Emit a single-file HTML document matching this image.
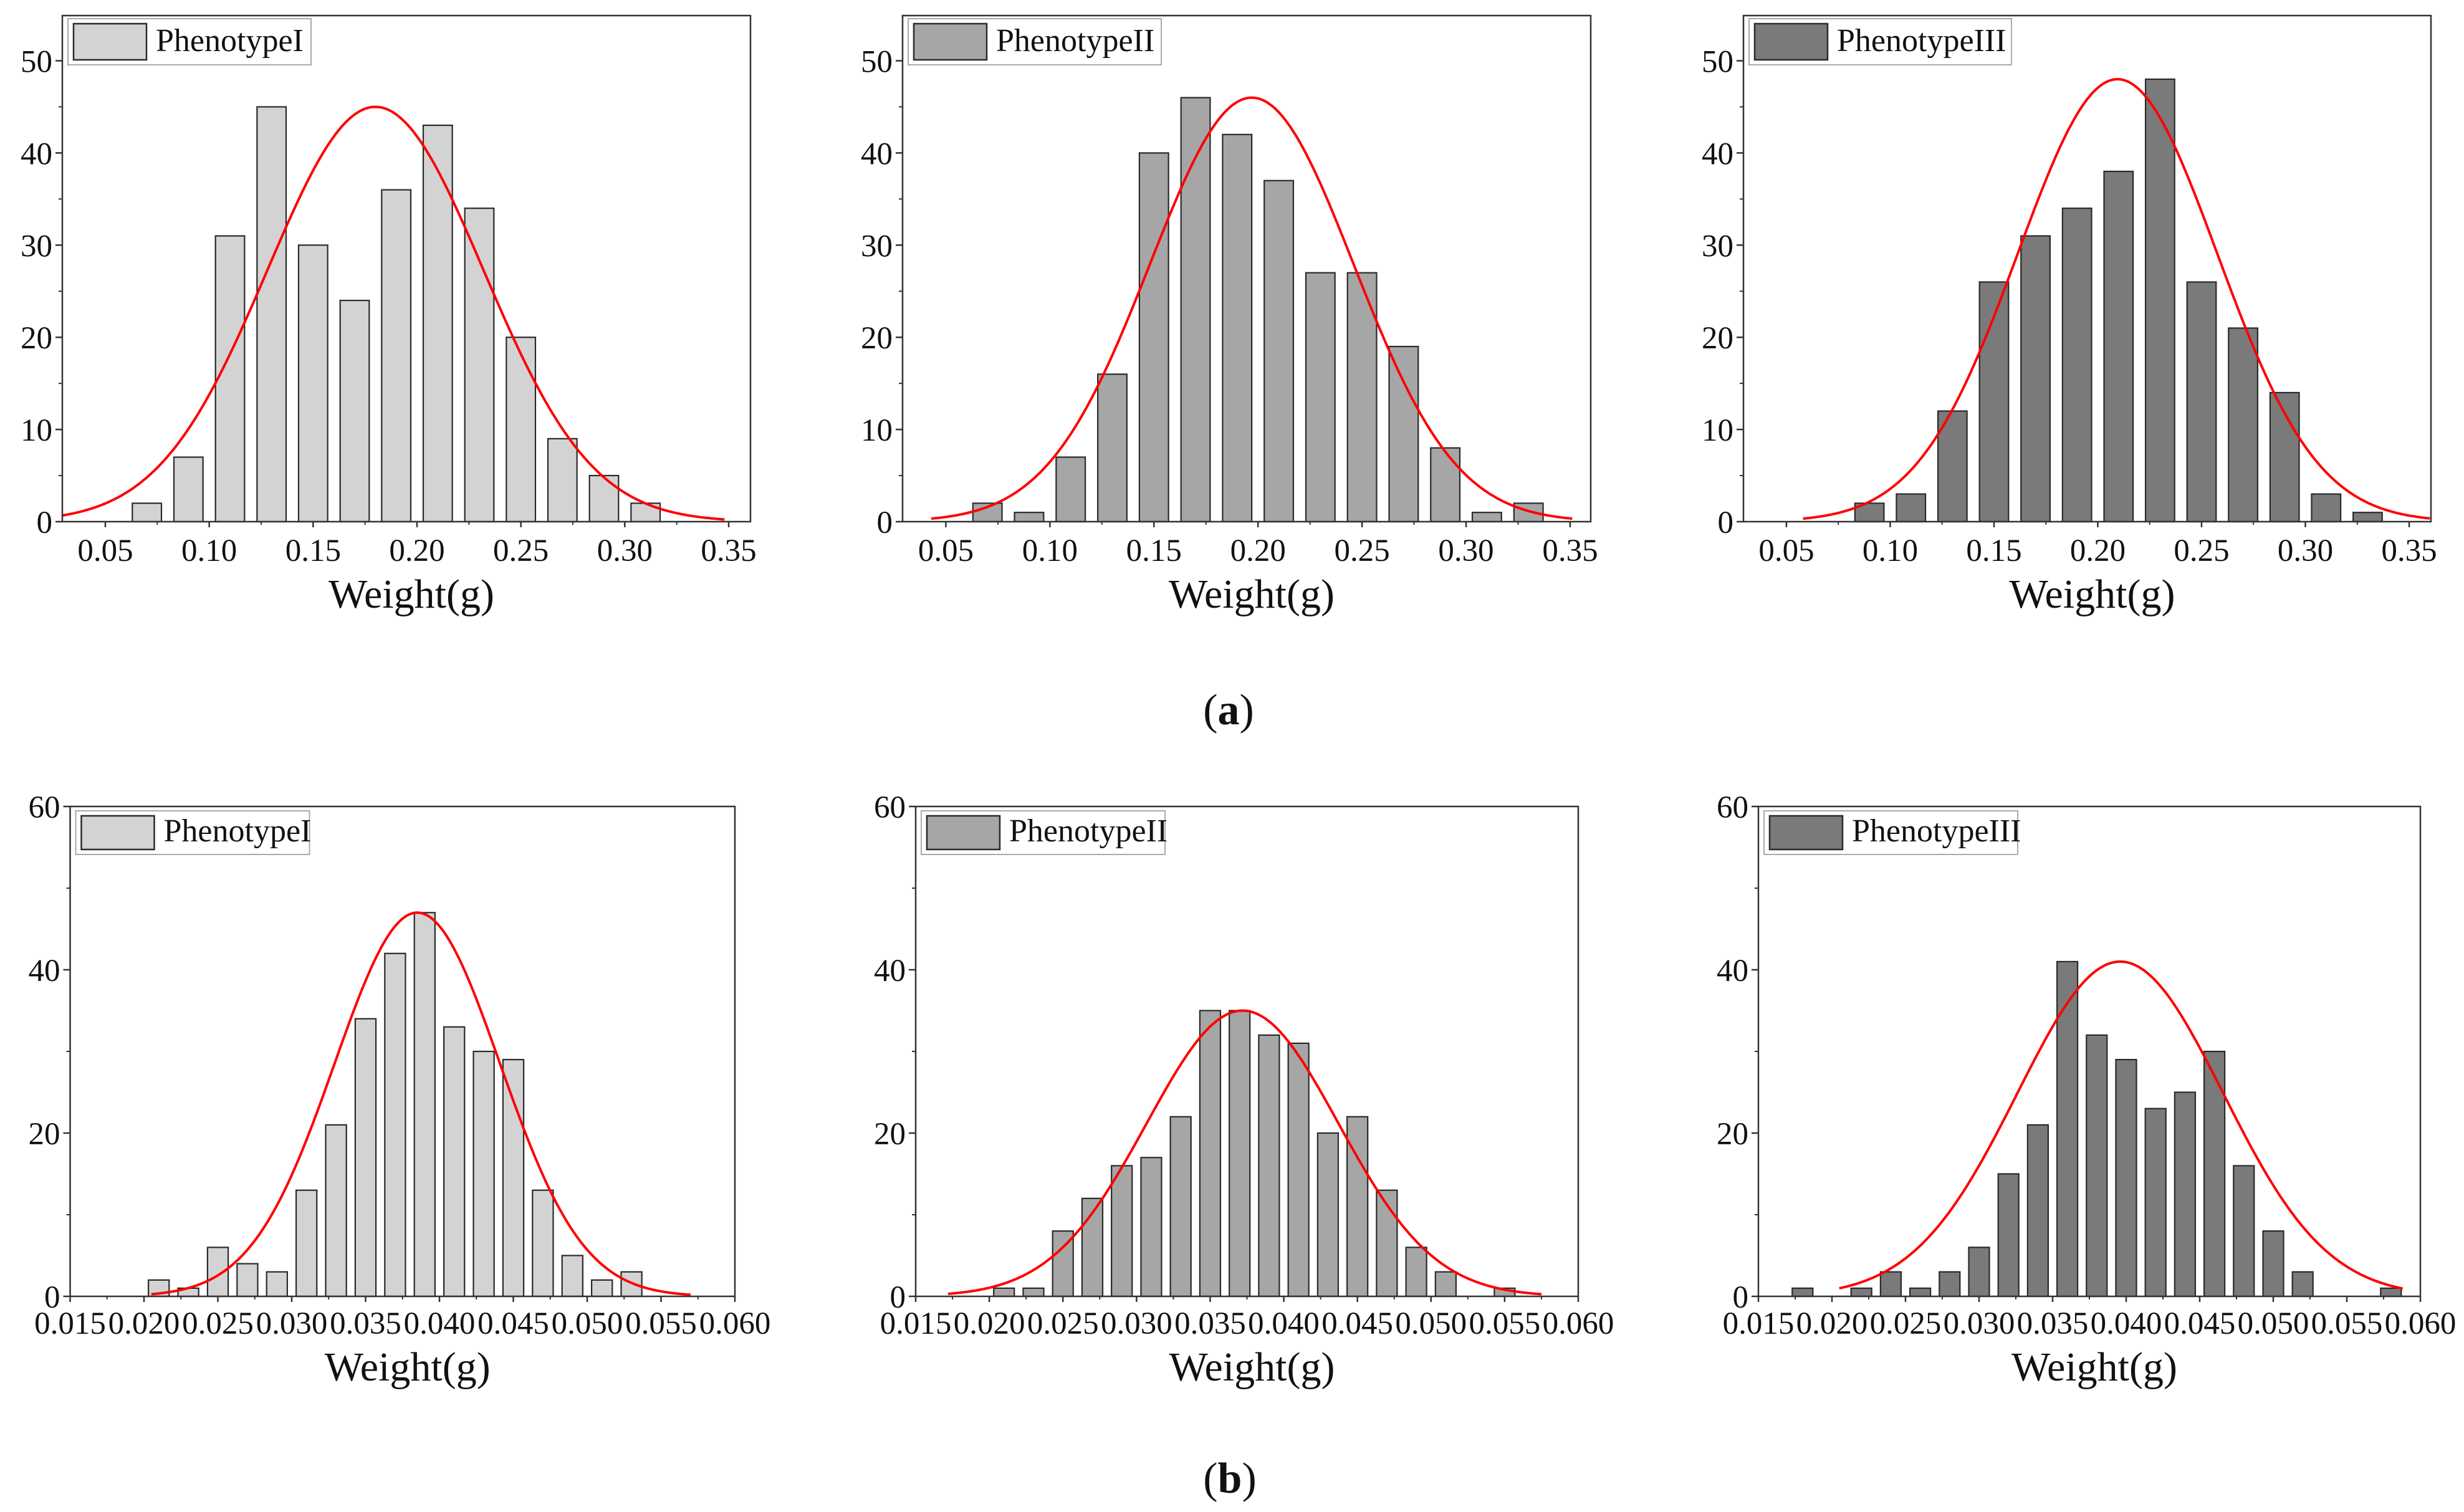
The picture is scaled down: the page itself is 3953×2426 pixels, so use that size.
<!DOCTYPE html>
<html><head><meta charset="utf-8"><style>
html,body{margin:0;padding:0;background:#fff;}
svg{display:block;}
text{font-family:"Liberation Serif",serif;fill:#111;}
</style></head><body>
<svg id="fig" width="3953" height="2426" viewBox="0 0 3953 2426" xmlns="http://www.w3.org/2000/svg">
<rect width="3953" height="2426" fill="#fff"/>
<text x="1971" y="1162" font-size="70" text-anchor="middle">(<tspan font-weight="bold">a</tspan>)</text>
<text x="1973" y="2395" font-size="70" text-anchor="middle">(<tspan font-weight="bold">b</tspan>)</text>
</svg>
<script>
// ---- data (top row, x in g) ----
const topXTicks = [0.05,0.10,0.15,0.20,0.25,0.30,0.35];
const topXTickLabels = ["0.05","0.10","0.15","0.20","0.25","0.30","0.35"];
const topYTicks = [0,10,20,30,40,50];
const topYTickLabels = ["0","10","20","30","40","50"];
const p1Centers = [0.07,0.09,0.11,0.13,0.15,0.17,0.19,0.21,0.23,0.25,0.27,0.29,0.31];
const p1Counts  = [2,7,31,45,30,24,36,43,34,20,9,5,2];
const p1Fit = [0.180,0.052,45,0.029,0.348]; // mean, sd, peak, start, end
const p2Centers = [0.07,0.09,0.11,0.13,0.15,0.17,0.19,0.21,0.23,0.25,0.27,0.29,0.31,0.33];
const p2Counts  = [2,1,7,16,40,46,42,37,27,27,19,8,1,2];
const p2Fit = [0.197,0.049,46,0.043,0.351];
const p3Centers = [0.09,0.11,0.13,0.15,0.17,0.19,0.21,0.23,0.25,0.27,0.29,0.31,0.33];
const p3Counts  = [2,3,12,26,31,34,38,48,26,21,14,3,1];
const p3Fit = [0.2095,0.048,48,0.058,0.36];
// ---- data (bottom row) ----
const botXTicks = [0.015,0.020,0.025,0.030,0.035,0.040,0.045,0.050,0.055,0.060];
const botXTickLabels = ["0.015","0.020","0.025","0.030","0.035","0.040","0.045","0.050","0.055","0.060"];
const botYTicks = [0,20,40,60];
const botYTickLabels = ["0","20","40","60"];
const p4Centers = [0.021,0.023,0.025,0.027,0.029,0.031,0.033,0.035,0.037,0.039,0.041,0.043,0.045,0.047,0.049,0.051,0.053];
const p4Counts  = [2,1,6,4,3,13,21,34,42,47,33,30,29,13,5,2,3];
const p4Fit = [0.0385,0.0056,47,0.0205,0.0570];
const p5Centers = [0.021,0.023,0.025,0.027,0.029,0.031,0.033,0.035,0.037,0.039,0.041,0.043,0.045,0.047,0.049,0.051,0.053,0.055];
const p5Counts  = [1,1,8,12,16,17,22,35,35,32,31,20,22,13,6,3,0,1];
const p5Fit = [0.0372,0.0065,35,0.0172,0.0575];
const p6Centers = [0.018,0.020,0.022,0.024,0.026,0.028,0.030,0.032,0.034,0.036,0.038,0.040,0.042,0.044,0.046,0.048,0.050,0.052,0.054,0.056,0.058];
const p6Counts  = [1,0,1,3,1,3,6,15,21,41,32,29,23,25,30,16,8,3,0,0,1];
const p6Fit = [0.0396,0.0070,41,0.0205,0.0588];
const legendNames = ["PhenotypeI","PhenotypeII","PhenotypeIII"];

const NS = "http://www.w3.org/2000/svg";
const svg = document.getElementById('fig');
function mk(tag, attrs, parent){
  const e = document.createElementNS(NS, tag);
  for (const k in attrs) e.setAttribute(k, attrs[k]);
  (parent||svg).appendChild(e);
  return e;
}
function txt(parent, x, y, s, size, anchor){
  const t = mk('text', {x:x, y:y, 'font-size':size, 'text-anchor':anchor}, parent);
  t.textContent = s;
  return t;
}

function panel(id, L, R, T, B, xmin, xmax, ymax, xTicks, xLabels, xMinorStep, yTicks, yLabels, yMinorStep,
               centers, counts, binW, fit, fill, legendIdx, legW, legH, legDy, lblY, titleY){
  const g = mk('g', {});
  
  
  const sx = v => L + (v - xmin) / (xmax - xmin) * (R - L);
  const sy = v => B - v / ymax * (B - T);
  for (let i = 0; i < centers.length; i++) {
    if (counts[i] <= 0) continue;
    const w = binW * 0.7;
    const x0 = sx(centers[i] - w/2), x1 = sx(centers[i] + w/2);
    const r = mk('rect', {x:x0, y:sy(counts[i]), width:x1-x0, height:B-sy(counts[i]),
      fill:fill, stroke:'#2a2a2a', 'stroke-width':2.2}, g);
    
    
  }
  const [mu, sd, pk, a, b] = fit;
  let d = '';
  for (let k = 0; k <= 300; k++) {
    const xv = a + (b - a) * k / 300;
    const yv = pk * Math.exp(-((xv - mu) ** 2) / (2 * sd * sd));
    d += (k ? 'L' : 'M') + sx(xv).toFixed(1) + ',' + sy(yv).toFixed(1);
  }
  const c = mk('path', {d:d, fill:'none', stroke:'#ff0000', 'stroke-width':4}, g);
  
  
  const f = mk('rect', {x:L, y:T, width:R-L, height:B-T, fill:'none', stroke:'#333', 'stroke-width':2.5}, g);
  
  
  const xa = mk('g', {}, g);
  
  
  for (let v = xTicks[0] - xMinorStep; v <= xmax + 1e-9; v += xMinorStep) {
    if (v < xmin - 1e-9) continue;
    mk('line', {x1:sx(v), x2:sx(v), y1:B, y2:B+5, stroke:'#333', 'stroke-width':2}, xa);
  }
  for (let i = 0; i < xTicks.length; i++) {
    const X = sx(xTicks[i]);
    mk('line', {x1:X, x2:X, y1:B, y2:B+9, stroke:'#333', 'stroke-width':2.5}, xa);
    const t = txt(xa, X, lblY, xLabels[i], 51, 'middle');
    
    
  }
  const tt = txt(xa, (L+R)/2 + 8, titleY, 'Weight(g)', 66, 'middle');
  
  
  const ya = mk('g', {}, g);
  
  
  for (let v = yMinorStep; v < ymax; v += yMinorStep) {
    mk('line', {x1:L-6, x2:L, y1:sy(v), y2:sy(v), stroke:'#333', 'stroke-width':2}, ya);
  }
  for (let i = 0; i < yTicks.length; i++) {
    const Y = sy(yTicks[i]);
    mk('line', {x1:L-11, x2:L, y1:Y, y2:Y, stroke:'#333', 'stroke-width':2.5}, ya);
    const t = txt(ya, L-16, Y+18, yLabels[i], 51, 'end');
    
    
  }
  const lg = mk('g', {}, g);
  
  
  const lx = L + 9, ly = T + legDy;
  mk('rect', {x:lx, y:ly, width:legW, height:legH, fill:'#fff', stroke:'#aaa', 'stroke-width':2}, lg);
  const sw = mk('rect', {x:lx+9, y:ly+8, width:117, height:legH-16, fill:fill, stroke:'#2a2a2a', 'stroke-width':2.5}, lg);
  
  
  const lt = txt(lg, lx+141, ly+legH*0.7, legendNames[legendIdx], 52, 'start');
  
  
}

const tT = 25, tB = 837, t50 = 97.5;
const topYmax = (tB - tT) / ((tB - t50) / 50);
const bT = 1294, bB = 2080;
panel('chart-a-phenotype-1', 100, 1204, tT, tB, 0.0293, 0.3605, topYmax, topXTicks, topXTickLabels, 0.025, topYTicks, topYTickLabels, 5, p1Centers, p1Counts, 0.02, p1Fit, '#d3d3d3', 0, 390, 74, 5, 900, 975);
panel('chart-a-phenotype-2', 1448, 2552, tT, tB, 0.0292, 0.3599, topYmax, topXTicks, topXTickLabels, 0.025, topYTicks, topYTickLabels, 5, p2Centers, p2Counts, 0.02, p2Fit, '#a6a6a6', 1, 406, 74, 5, 900, 975);
panel('chart-a-phenotype-3', 2797, 3900, tT, tB, 0.0293, 0.3605, topYmax, topXTicks, topXTickLabels, 0.025, topYTicks, topYTickLabels, 5, p3Centers, p3Counts, 0.02, p3Fit, '#7a7a7a', 2, 421, 74, 5, 900, 975);
panel('chart-b-phenotype-1', 112.5, 1179, bT, bB, 0.015, 0.060, 60, botXTicks, botXTickLabels, 0.0025, botYTicks, botYTickLabels, 10, p4Centers, p4Counts, 0.002, p4Fit, '#d3d3d3', 0, 375, 70, 7, 2140, 2215);
panel('chart-b-phenotype-2', 1469, 2532, bT, bB, 0.015, 0.060, 60, botXTicks, botXTickLabels, 0.0025, botYTicks, botYTickLabels, 10, p5Centers, p5Counts, 0.002, p5Fit, '#a6a6a6', 1, 391, 70, 7, 2140, 2215);
panel('chart-b-phenotype-3', 2821, 3883, bT, bB, 0.015, 0.060, 60, botXTicks, botXTickLabels, 0.0025, botYTicks, botYTickLabels, 10, p6Centers, p6Counts, 0.002, p6Fit, '#7a7a7a', 2, 407, 70, 7, 2140, 2215);
</script>
</body></html>
